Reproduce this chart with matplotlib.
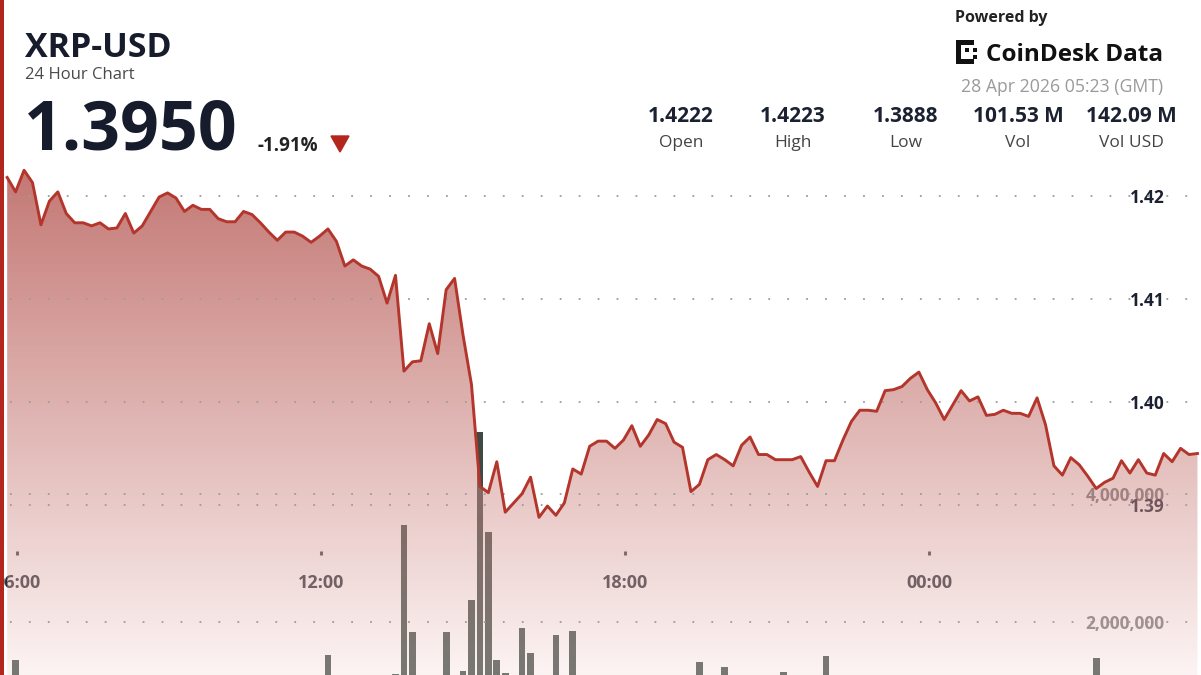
import numpy as np
import pandas as pd
import matplotlib
matplotlib.use("Agg")
import matplotlib.pyplot as plt
import matplotlib.dates as mdates
import matplotlib.transforms as mtransforms
from matplotlib.patches import Rectangle, Polygon
from matplotlib.ticker import FuncFormatter

# ---------------- data ----------------
symbol = "XRP-USD"
subtitle = "24 Hour Chart"
last_price = "1.3950"
change_pct = "-1.91%"
powered_by = "Powered by"
brand = "CoinDesk Data"
stamp = "28 Apr 2026 05:23 (GMT)"
stat_values = ["1.4222", "1.4223", "1.3888", "101.53 M", "142.09 M"]
stat_labels = ["Open", "High", "Low", "Vol", "Vol USD"]

start_time = "2026-04-27 05:48"
prices = [
    1.4218, 1.4204, 1.4225, 1.4213, 1.4172, 1.4195, 1.4204, 1.4183, 1.4174, 1.4174,
    1.4171, 1.4174, 1.4168, 1.4169, 1.4183, 1.4164, 1.4171, 1.4185, 1.4199, 1.4203,
    1.4198, 1.4185, 1.4191, 1.4187, 1.4187, 1.4178, 1.4175, 1.4175, 1.4185, 1.4182,
    1.4174, 1.4165, 1.4157, 1.4165, 1.4165, 1.4161, 1.4155, 1.4161, 1.4168, 1.4156,
    1.4132, 1.4138, 1.4132, 1.4129, 1.4122, 1.4096, 1.4123, 1.4030, 1.4039, 1.4040,
    1.4076, 1.4047, 1.4109, 1.4120, 1.4065, 1.4017, 1.3918, 1.3912, 1.3942, 1.3893,
    1.3902, 1.3911, 1.3927, 1.3888, 1.3899, 1.3890, 1.3902, 1.3935, 1.3930, 1.3957,
    1.3962, 1.3962, 1.3955, 1.3963, 1.3977, 1.3957, 1.3968, 1.3983, 1.3979, 1.3961,
    1.3956, 1.3913, 1.3920, 1.3944, 1.3949, 1.3944, 1.3938, 1.3958, 1.3966, 1.3949,
    1.3949, 1.3944, 1.3944, 1.3944, 1.3947, 1.3932, 1.3918, 1.3943, 1.3943, 1.3963,
    1.3981, 1.3992, 1.3992, 1.3991, 1.4011, 1.4012, 1.4015, 1.4023, 1.4029, 1.4012,
    1.3999, 1.3983, 1.3997, 1.4011, 1.4001, 1.4005, 1.3987, 1.3988, 1.3992, 1.3989,
    1.3989, 1.3986, 1.4004, 1.3978, 1.3938, 1.3929, 1.3946, 1.3939, 1.3928, 1.3916,
    1.3922, 1.3926, 1.3943, 1.3931, 1.3944, 1.3931, 1.3929, 1.3950, 1.3942, 1.3955,
    1.3949, 1.3950,
]
# visible volume bars: index of the 10-minute candle and its volume
vol_index = [1, 38, 46, 47, 48, 52, 54, 55, 56, 57, 58, 59, 61, 62, 65, 67, 82, 85, 92, 97, 129]
vol_values = [1.41e6, 1.48e6, 1.19e6, 3.52e6, 1.84e6, 1.84e6, 1.24e6, 2.35e6, 4.97e6, 3.40e6,
              1.41e6, 1.20e6, 1.90e6, 1.51e6, 1.80e6, 1.86e6, 1.38e6, 1.29e6, 1.22e6, 1.47e6, 1.44e6]

price_ticks = [1.39, 1.40, 1.41, 1.42]
vol_ticks = [2_000_000, 4_000_000]

# ---------------- figure ----------------
W, H = 1201, 675
fig = plt.figure(figsize=(W / 100, H / 100), dpi=100)
fig.patch.set_facecolor("white")
plt.rcParams["font.family"] = ["Open Sans", "DejaVu Sans"]

ax_v = fig.add_axes([0, 0, 1, 1])
ax_p = ax_v.twinx()

times = pd.date_range(start_time, periods=len(prices), freq="10min")
vt = times[vol_index]

# volume bars (under the price fill)
ax_v.bar(vt, vol_values, width=8.0 / 1440, color="#3f4a44", zorder=1, linewidth=0)

# price area with vertical gradient
poly = ax_p.fill_between(times, prices, 1.30, facecolor="none", edgecolor="none")
ny = 400
fy = np.linspace(0, 1, ny)
ypix = H * (1 - fy)
top_c = np.array([198, 125, 121.0])
bot_c = np.array([252, 244, 243.0])
T = top_c + np.outer((ypix - 190) / 485.0, bot_c - top_c)
T = np.clip(T, 0, 255)
A = 0.78 + (ypix - 170) / 505.0 * (0.32 - 0.78)
A = np.clip(A, 0.3, 0.8)
C = (T - (1 - A)[:, None] * 255) / A[:, None]
C = np.clip(C, 0, 255) / 255.0
img = np.zeros((ny, 1, 4))
img[:, 0, :3] = C
img[:, 0, 3] = A
im = ax_p.imshow(img, extent=[0, 1, 0, 1], transform=ax_p.transAxes, aspect="auto",
                 origin="lower", zorder=2, interpolation="bilinear")
im.set_clip_path(poly.get_paths()[0], ax_p.transData)

# gridlines (dotted)
dot_style = dict(color="#9c9c9c", lw=1.3, linestyle=(5, (1, 9.5)), zorder=3)
for p in price_ticks:
    ax_p.axhline(p, **dot_style)
blend = mtransforms.blended_transform_factory(ax_p.transAxes, ax_v.transData)
for v in vol_ticks:
    ax_p.plot([0, 1], [v, v], transform=blend, **dot_style)

# price line
ax_p.plot(times, prices, color="#b3352b", lw=2.1, zorder=4, solid_joinstyle="round")

# limits
x_left = pd.Timestamp("2026-04-27 05:39:30")
x_right = pd.Timestamp("2026-04-28 05:22:12")
ax_p.set_xlim(x_left, x_right)
ax_p.set_ylim(1.373495, 1.439029)
ax_v.set_ylim(1.171875e6, 11.71875e6)
ax_p.set_aspect("auto")

for a in (ax_v, ax_p):
    for s in a.spines.values():
        s.set_color("none")
ax_v.patch.set_visible(False)

# price tick labels (right, inside)
ax_p.set_yticks(price_ticks)
ax_p.yaxis.set_major_formatter(FuncFormatter(lambda v, _: f"{v:.2f}"))
ax_p.tick_params(axis="y", length=0, pad=-26, labelsize=12.5, labelcolor="#1b2130")
for lab in ax_p.get_yticklabels():
    lab.set_ha("right")
    lab.set_fontweight("bold")

# volume tick labels (right, inside, under the fill)
ax_v.yaxis.tick_right()
ax_v.set_yticks(vol_ticks)
ax_v.yaxis.set_major_formatter(FuncFormatter(lambda v, _: f"{v:,.0f}"))
ax_v.tick_params(axis="y", length=0, pad=-26, labelsize=12.5, labelcolor="#777777")
for lab in ax_v.get_yticklabels():
    lab.set_ha("right")
    lab.set_fontweight("bold")
ax_v.tick_params(axis="x", bottom=False, labelbottom=False)

# time axis drawn on top axes
ax_p.xaxis.set_visible(True)
ax_p.spines["bottom"].set_position(("axes", 1 - 553 / H))
ax_p.xaxis.set_major_locator(mdates.HourLocator(byhour=[0, 6, 12, 18]))
ax_p.xaxis.set_major_formatter(mdates.DateFormatter("%H:%M"))
ax_p.tick_params(axis="x", bottom=True, labelbottom=True, direction="inout", length=2.2,
                 width=2.2, color="#444444", pad=14, labelsize=13, labelcolor="#2a2f38")
for lab in ax_p.get_xticklabels():
    lab.set_fontweight("bold")

# ---------------- header ----------------
def fx(x):
    return x / W

def fy_(y):
    return 1 - y / H

dark = "#161c2b"
fig.text(fx(25), fy_(57), symbol, fontsize=24.5, fontweight="bold", color=dark, va="baseline")
fig.text(fx(25), fy_(79), subtitle, fontsize=12, color="#4a4a4a", va="baseline")
fig.text(fx(24), fy_(150), last_price, fontsize=49, fontweight="bold", color=dark, va="baseline")
fig.text(fx(258), fy_(151), change_pct, fontsize=13.5, fontweight="bold", color="#222222", va="baseline")
fig.add_artist(Polygon([(fx(331), fy_(136)), (fx(349), fy_(136)), (fx(340), fy_(152))],
                       closed=True, transform=fig.transFigure, color="#b3261e"))

fig.text(fx(955), fy_(22), powered_by, fontsize=11.5, fontweight="bold", color="#222222", va="baseline")
fig.text(fx(986), fy_(61), brand, fontsize=17.5, fontweight="bold", color="#111111", va="baseline")
# logo mark
for (x0, y0, w, h) in [(956, 40, 5, 24), (956, 40, 18, 5), (956, 59, 18, 5),
                       (965, 48, 4, 4), (973, 48, 4, 4), (973, 55, 4, 4)]:
    fig.add_artist(Rectangle((fx(x0), fy_(y0 + h)), w / W, h / H, transform=fig.transFigure,
                             color="#111111", lw=0))
fig.text(fx(1163), fy_(92), stamp, fontsize=12.7, color="#9a9a9a", va="baseline", ha="right")

centers = [681, 793, 906, 1018, 1131]
for cx, val, lab in zip(centers, stat_values, stat_labels):
    fig.text(fx(cx), fy_(122), val, fontsize=15, fontweight="bold", color="#1b2130",
             ha="center", va="baseline")
    fig.text(fx(cx), fy_(147), lab, fontsize=12.5, color="#444444", ha="center", va="baseline")

# left accent border
fig.add_artist(Rectangle((0, 0), 4 / W, 1, transform=fig.transFigure, color="#b3261e", lw=0))

fig.savefig("out.png", dpi=100, facecolor="white")
